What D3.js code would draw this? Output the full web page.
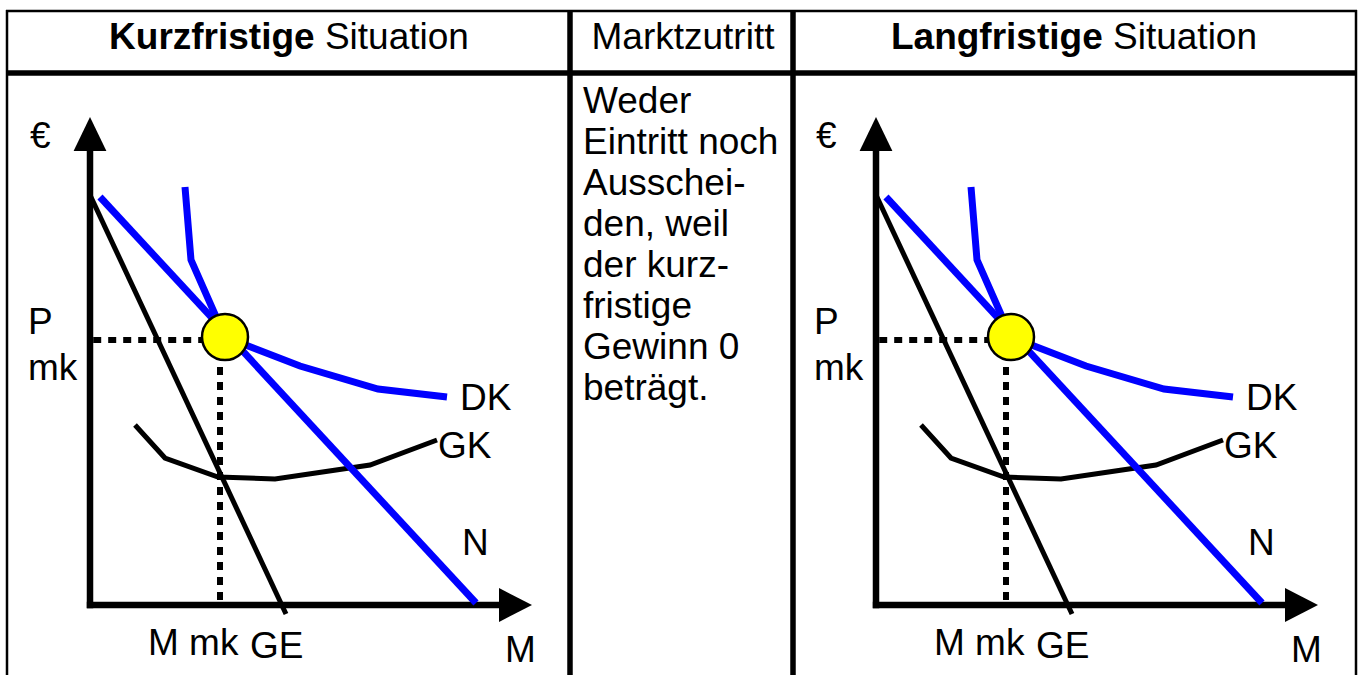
<!DOCTYPE html>
<html>
<head>
<meta charset="utf-8">
<script src="https://cdn.jsdelivr.net/npm/d3@7"></script>
<style>
  html, body { margin: 0; padding: 0; background: #fff; }
  svg { display: block; font-family: "Liberation Sans", Arial, sans-serif; }
</style>
</head>
<body>
<div id="container"></div>
<script>
/* DATA (x = Menge, y = Euro) */
const nachfrage = [[2.5, 102], [96.5, 0.5]];                 // N
const grenzerloes = [[0, 102.5], [49, -2.25]];               // GE
const durchschnittskosten = [[23.75, 104.5], [25.25, 86.25], [33.75, 67],
  [52.5, 59.75], [72, 54], [89.25, 52]];                     // DK
const grenzkosten = [[11.25, 45], [18.75, 36.75], [32, 32],
  [46.25, 31.5], [70, 35], [86.75, 41.25]];                  // GK
const gleichgewicht = [33.75, 67];
const preisMk = 66.25;
const mengeMk = 32.5;

const headers = ["Kurzfristige", "Marktzutritt", "Langfristige"];
const midText = ["Weder", "Eintritt noch", "Ausschei-", "den, weil", "der kurz-",
  "fristige", "Gewinn 0", "beträgt."];
const labelTexts = ["€", "P", "mk", "DK", "GK", "N", "M mk", "GE", "M"];

/* LAYOUT */
const width = 1360, height = 675;
const fontSize = 37;
const labelPos = [[-15, 114.25], [-15.5, 67.75], [-15.5, 56.25], [92.5, 48.75],
  [87, 36.75], [93, 12.5], [14.5, -12.5], [40, -13.25], [103.75, -14.25]];
const panels = [{ x: 90, y: 605 }, { x: 876, y: 605 }];

const svg = d3.select("#container")
  .append("svg")
  .attr("width", width)
  .attr("height", height);

// + TABLE
const grid = svg.append("g").attr("stroke", "#000");
grid.append("line").attr("x1", 6).attr("x2", 1357).attr("y1", 11).attr("y2", 11).attr("stroke-width", 2.5);
grid.append("line").attr("x1", 7).attr("x2", 7).attr("y1", 10).attr("y2", height).attr("stroke-width", 2.5);
grid.append("line").attr("x1", 1356).attr("x2", 1356).attr("y1", 10).attr("y2", height).attr("stroke-width", 2.5);
grid.append("line").attr("x1", 6).attr("x2", 1357).attr("y1", 73).attr("y2", 73).attr("stroke-width", 5.5);
grid.selectAll(".div").data([570, 793]).join("line")
  .attr("x1", d => d).attr("x2", d => d).attr("y1", 10).attr("y2", height).attr("stroke-width", 5.5);

// headers
const h1 = svg.append("text").attr("x", 289).attr("y", 49).attr("text-anchor", "middle").attr("font-size", fontSize);
h1.append("tspan").attr("font-weight", "bold").text(headers[0]);
h1.append("tspan").text(" Situation");
svg.append("text").attr("x", 683).attr("y", 49).attr("text-anchor", "middle").attr("font-size", fontSize).text(headers[1]);
const h3 = svg.append("text").attr("x", 1074).attr("y", 49).attr("text-anchor", "middle").attr("font-size", fontSize);
h3.append("tspan").attr("font-weight", "bold").text(headers[2]);
h3.append("tspan").text(" Situation");

// middle column text
svg.append("g").selectAll("text").data(midText).join("text")
  .attr("x", 583)
  .attr("y", (d, i) => 113 + i * 41)
  .attr("font-size", fontSize)
  .text(d => d);

// + SCALES
const xScale = d3.scaleLinear().domain([0, 110]).range([0, 440]);
const yScale = d3.scaleLinear().domain([0, 120]).range([0, -480]);
const line = d3.line().x(d => xScale(d[0])).y(d => yScale(d[1]));

panels.forEach(p => {
  const g = svg.append("g").attr("transform", `translate(${p.x},${p.y})`);

  // axes
  g.append("line").attr("x1", 0).attr("x2", 0).attr("y1", yScale(-0.8)).attr("y2", yScale(114))
    .attr("stroke", "#000").attr("stroke-width", 6.5);
  g.append("line").attr("x1", xScale(-0.8)).attr("x2", xScale(103)).attr("y1", 0).attr("y2", 0)
    .attr("stroke", "#000").attr("stroke-width", 6.5);
  g.append("path").attr("d", `M${xScale(-4.1)},${yScale(113.5)}L0,${yScale(122)}L${xScale(4.1)},${yScale(113.5)}Z`);
  g.append("path").attr("d", `M${xScale(102.25)},${yScale(4.25)}L${xScale(110.5)},0L${xScale(102.25)},${yScale(-4.25)}Z`);

  // dotted guides
  g.append("line").attr("x1", xScale(0.8)).attr("x2", xScale(gleichgewicht[0]))
    .attr("y1", yScale(preisMk)).attr("y2", yScale(preisMk))
    .attr("stroke", "#000").attr("stroke-width", 6).attr("stroke-dasharray", "8,7");
  g.append("line").attr("x1", xScale(mengeMk)).attr("x2", xScale(mengeMk))
    .attr("y1", yScale(gleichgewicht[1])).attr("y2", yScale(0.8))
    .attr("stroke", "#000").attr("stroke-width", 6).attr("stroke-dasharray", "8,7");

  // curves
  g.append("path").attr("d", line(grenzerloes)).attr("fill", "none").attr("stroke", "#000").attr("stroke-width", 5);
  g.append("path").attr("d", line(grenzkosten)).attr("fill", "none").attr("stroke", "#000").attr("stroke-width", 5);
  g.append("path").attr("d", line(nachfrage)).attr("fill", "none").attr("stroke", "#0000ff").attr("stroke-width", 7);
  g.append("path").attr("d", line(durchschnittskosten)).attr("fill", "none").attr("stroke", "#0000ff").attr("stroke-width", 7);

  // equilibrium point
  g.append("circle").attr("cx", xScale(gleichgewicht[0])).attr("cy", yScale(gleichgewicht[1])).attr("r", 23)
    .attr("fill", "#ffff00").attr("stroke", "#000").attr("stroke-width", 2.5);

  // labels
  g.selectAll(".lab").data(labelTexts).join("text")
    .attr("x", (d, i) => xScale(labelPos[i][0]))
    .attr("y", (d, i) => yScale(labelPos[i][1]))
    .attr("font-size", fontSize)
    .text(d => d);
});
</script>
</body>
</html>
